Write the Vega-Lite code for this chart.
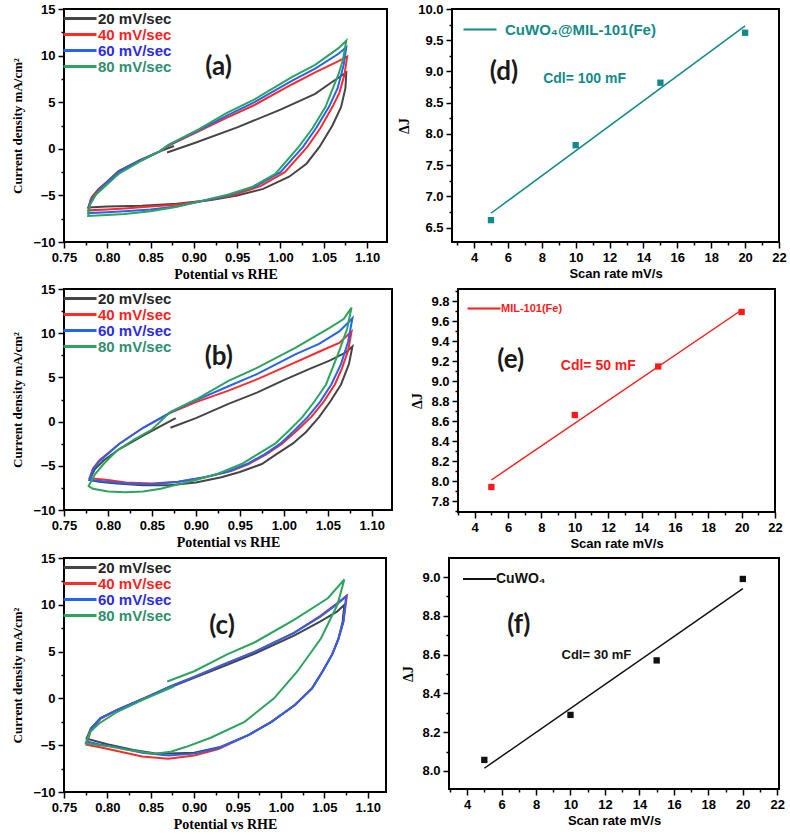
{
"$schema": "https://vega.github.io/schema/vega-lite/v6.json",
"background": "white",
"padding": {"left": 10, "top": 2, "right": 5, "bottom": 2},
"spacing": 0,
"resolve": {"scale": {"color": "independent"}, "legend": {"color": "independent"}},
"config": {
  "view": {"stroke": "#000", "strokeWidth": 2},
  "axis": {"domain": false, "grid": false, "tickColor": "#000", "tickWidth": 1.5, "labelFont": "Liberation Sans", "labelFontWeight": "bold", "labelFontSize": 13, "labelColor": "#000", "labelFlush": false, "labelOverlap": false, "labelPadding": 3, "titleColor": "#000", "titleFontWeight": "bold", "titleFontSize": 13},
  "legend": {"orient": "top-left", "offset": 2, "padding": 0, "symbolType": "M-2,0H4", "symbolSize": 121, "symbolStrokeWidth": 3, "symbolOffset": 1, "labelOffset": 16, "labelFont": "Liberation Sans", "labelFontWeight": "bold", "labelFontSize": 15, "rowPadding": 0, "labelLimit": 0, "title": null}
},
"datasets": {
"cv": [
{"p":"a","s":"20 mV/sec","i":0,"x":0.869,"y":-0.4},{"p":"a","s":"20 mV/sec","i":1,"x":0.9,"y":0.6},{"p":"a","s":"20 mV/sec","i":2,"x":0.95,"y":2.3},{"p":"a","s":"20 mV/sec","i":3,"x":1.0,"y":4.2},{"p":"a","s":"20 mV/sec","i":4,"x":1.04,"y":5.9},{"p":"a","s":"20 mV/sec","i":5,"x":1.06,"y":7.2},{"p":"a","s":"20 mV/sec","i":6,"x":1.076,"y":8.2},{"p":"a","s":"20 mV/sec","i":7,"x":1.075,"y":6.5},{"p":"a","s":"20 mV/sec","i":8,"x":1.07,"y":4.5},{"p":"a","s":"20 mV/sec","i":9,"x":1.06,"y":2.5},{"p":"a","s":"20 mV/sec","i":10,"x":1.045,"y":0.2},{"p":"a","s":"20 mV/sec","i":11,"x":1.03,"y":-1.6},{"p":"a","s":"20 mV/sec","i":12,"x":1.01,"y":-3.0},{"p":"a","s":"20 mV/sec","i":13,"x":0.98,"y":-4.3},{"p":"a","s":"20 mV/sec","i":14,"x":0.95,"y":-5.0},{"p":"a","s":"20 mV/sec","i":15,"x":0.92,"y":-5.5},{"p":"a","s":"20 mV/sec","i":16,"x":0.88,"y":-5.9},{"p":"a","s":"20 mV/sec","i":17,"x":0.84,"y":-6.1},{"p":"a","s":"20 mV/sec","i":18,"x":0.8,"y":-6.2},{"p":"a","s":"20 mV/sec","i":19,"x":0.778,"y":-6.3},{"p":"a","s":"20 mV/sec","i":20,"x":0.782,"y":-5.2},{"p":"a","s":"20 mV/sec","i":21,"x":0.79,"y":-4.3},{"p":"a","s":"20 mV/sec","i":22,"x":0.8,"y":-3.5},{"p":"a","s":"20 mV/sec","i":23,"x":0.813,"y":-2.4},{"p":"a","s":"20 mV/sec","i":24,"x":0.837,"y":-1.25},{"p":"a","s":"20 mV/sec","i":25,"x":0.86,"y":-0.3},{"p":"a","s":"20 mV/sec","i":26,"x":0.877,"y":0.3},
{"p":"a","s":"40 mV/sec","i":0,"x":0.871,"y":0.35},{"p":"a","s":"40 mV/sec","i":1,"x":0.906,"y":1.9},{"p":"a","s":"40 mV/sec","i":2,"x":0.937,"y":3.3},{"p":"a","s":"40 mV/sec","i":3,"x":0.97,"y":4.7},{"p":"a","s":"40 mV/sec","i":4,"x":1.013,"y":6.9},{"p":"a","s":"40 mV/sec","i":5,"x":1.04,"y":8.2},{"p":"a","s":"40 mV/sec","i":6,"x":1.067,"y":9.4},{"p":"a","s":"40 mV/sec","i":7,"x":1.077,"y":9.9},{"p":"a","s":"40 mV/sec","i":8,"x":1.074,"y":8.0},{"p":"a","s":"40 mV/sec","i":9,"x":1.068,"y":6.0},{"p":"a","s":"40 mV/sec","i":10,"x":1.06,"y":4.5},{"p":"a","s":"40 mV/sec","i":11,"x":1.046,"y":2.2},{"p":"a","s":"40 mV/sec","i":12,"x":1.031,"y":0.2},{"p":"a","s":"40 mV/sec","i":13,"x":1.005,"y":-2.5},{"p":"a","s":"40 mV/sec","i":14,"x":0.977,"y":-4.0},{"p":"a","s":"40 mV/sec","i":15,"x":0.945,"y":-5.0},{"p":"a","s":"40 mV/sec","i":16,"x":0.91,"y":-5.6},{"p":"a","s":"40 mV/sec","i":17,"x":0.88,"y":-6.0},{"p":"a","s":"40 mV/sec","i":18,"x":0.85,"y":-6.2},{"p":"a","s":"40 mV/sec","i":19,"x":0.82,"y":-6.4},{"p":"a","s":"40 mV/sec","i":20,"x":0.8,"y":-6.5},{"p":"a","s":"40 mV/sec","i":21,"x":0.778,"y":-6.6},{"p":"a","s":"40 mV/sec","i":22,"x":0.781,"y":-5.4},{"p":"a","s":"40 mV/sec","i":23,"x":0.79,"y":-4.4},{"p":"a","s":"40 mV/sec","i":24,"x":0.8,"y":-3.6},{"p":"a","s":"40 mV/sec","i":25,"x":0.813,"y":-2.5},{"p":"a","s":"40 mV/sec","i":26,"x":0.837,"y":-1.3},{"p":"a","s":"40 mV/sec","i":27,"x":0.86,"y":-0.3},{"p":"a","s":"40 mV/sec","i":28,"x":0.871,"y":0.35},
{"p":"a","s":"60 mV/sec","i":0,"x":0.871,"y":0.4},{"p":"a","s":"60 mV/sec","i":1,"x":0.906,"y":2.0},{"p":"a","s":"60 mV/sec","i":2,"x":0.937,"y":3.5},{"p":"a","s":"60 mV/sec","i":3,"x":0.97,"y":5.0},{"p":"a","s":"60 mV/sec","i":4,"x":1.013,"y":7.3},{"p":"a","s":"60 mV/sec","i":5,"x":1.04,"y":8.6},{"p":"a","s":"60 mV/sec","i":6,"x":1.067,"y":10.2},{"p":"a","s":"60 mV/sec","i":7,"x":1.076,"y":10.9},{"p":"a","s":"60 mV/sec","i":8,"x":1.073,"y":9.0},{"p":"a","s":"60 mV/sec","i":9,"x":1.066,"y":6.5},{"p":"a","s":"60 mV/sec","i":10,"x":1.056,"y":4.5},{"p":"a","s":"60 mV/sec","i":11,"x":1.041,"y":2.2},{"p":"a","s":"60 mV/sec","i":12,"x":1.026,"y":0.2},{"p":"a","s":"60 mV/sec","i":13,"x":1.0,"y":-2.5},{"p":"a","s":"60 mV/sec","i":14,"x":0.972,"y":-4.0},{"p":"a","s":"60 mV/sec","i":15,"x":0.94,"y":-5.0},{"p":"a","s":"60 mV/sec","i":16,"x":0.91,"y":-5.6},{"p":"a","s":"60 mV/sec","i":17,"x":0.88,"y":-6.2},{"p":"a","s":"60 mV/sec","i":18,"x":0.85,"y":-6.5},{"p":"a","s":"60 mV/sec","i":19,"x":0.82,"y":-6.7},{"p":"a","s":"60 mV/sec","i":20,"x":0.8,"y":-6.8},{"p":"a","s":"60 mV/sec","i":21,"x":0.778,"y":-6.9},{"p":"a","s":"60 mV/sec","i":22,"x":0.781,"y":-5.6},{"p":"a","s":"60 mV/sec","i":23,"x":0.79,"y":-4.5},{"p":"a","s":"60 mV/sec","i":24,"x":0.8,"y":-3.6},{"p":"a","s":"60 mV/sec","i":25,"x":0.813,"y":-2.5},{"p":"a","s":"60 mV/sec","i":26,"x":0.837,"y":-1.3},{"p":"a","s":"60 mV/sec","i":27,"x":0.86,"y":-0.3},{"p":"a","s":"60 mV/sec","i":28,"x":0.871,"y":0.4},
{"p":"a","s":"80 mV/sec","i":0,"x":0.871,"y":0.45},{"p":"a","s":"80 mV/sec","i":1,"x":0.906,"y":2.1},{"p":"a","s":"80 mV/sec","i":2,"x":0.937,"y":3.8},{"p":"a","s":"80 mV/sec","i":3,"x":0.97,"y":5.3},{"p":"a","s":"80 mV/sec","i":4,"x":1.013,"y":7.7},{"p":"a","s":"80 mV/sec","i":5,"x":1.04,"y":9.0},{"p":"a","s":"80 mV/sec","i":6,"x":1.067,"y":10.8},{"p":"a","s":"80 mV/sec","i":7,"x":1.076,"y":11.6},{"p":"a","s":"80 mV/sec","i":8,"x":1.072,"y":9.5},{"p":"a","s":"80 mV/sec","i":9,"x":1.067,"y":8.0},{"p":"a","s":"80 mV/sec","i":10,"x":1.052,"y":4.5},{"p":"a","s":"80 mV/sec","i":11,"x":1.037,"y":2.2},{"p":"a","s":"80 mV/sec","i":12,"x":1.021,"y":0.2},{"p":"a","s":"80 mV/sec","i":13,"x":0.994,"y":-2.7},{"p":"a","s":"80 mV/sec","i":14,"x":0.967,"y":-4.1},{"p":"a","s":"80 mV/sec","i":15,"x":0.94,"y":-4.9},{"p":"a","s":"80 mV/sec","i":16,"x":0.917,"y":-5.4},{"p":"a","s":"80 mV/sec","i":17,"x":0.879,"y":-6.25},{"p":"a","s":"80 mV/sec","i":18,"x":0.85,"y":-6.7},{"p":"a","s":"80 mV/sec","i":19,"x":0.82,"y":-7.0},{"p":"a","s":"80 mV/sec","i":20,"x":0.8,"y":-7.1},{"p":"a","s":"80 mV/sec","i":21,"x":0.778,"y":-7.2},{"p":"a","s":"80 mV/sec","i":22,"x":0.78,"y":-6.0},{"p":"a","s":"80 mV/sec","i":23,"x":0.787,"y":-4.9},{"p":"a","s":"80 mV/sec","i":24,"x":0.8,"y":-3.8},{"p":"a","s":"80 mV/sec","i":25,"x":0.813,"y":-2.7},{"p":"a","s":"80 mV/sec","i":26,"x":0.837,"y":-1.4},{"p":"a","s":"80 mV/sec","i":27,"x":0.86,"y":-0.3},{"p":"a","s":"80 mV/sec","i":28,"x":0.871,"y":0.45},
{"p":"b","s":"20 mV/sec","i":0,"x":0.871,"y":-0.7},{"p":"b","s":"20 mV/sec","i":1,"x":0.9,"y":0.4},{"p":"b","s":"20 mV/sec","i":2,"x":0.937,"y":2.0},{"p":"b","s":"20 mV/sec","i":3,"x":0.97,"y":3.3},{"p":"b","s":"20 mV/sec","i":4,"x":1.0,"y":4.7},{"p":"b","s":"20 mV/sec","i":5,"x":1.03,"y":6.0},{"p":"b","s":"20 mV/sec","i":6,"x":1.052,"y":6.9},{"p":"b","s":"20 mV/sec","i":7,"x":1.07,"y":7.8},{"p":"b","s":"20 mV/sec","i":8,"x":1.078,"y":8.5},{"p":"b","s":"20 mV/sec","i":9,"x":1.074,"y":6.5},{"p":"b","s":"20 mV/sec","i":10,"x":1.065,"y":4.2},{"p":"b","s":"20 mV/sec","i":11,"x":1.053,"y":2.3},{"p":"b","s":"20 mV/sec","i":12,"x":1.04,"y":0.5},{"p":"b","s":"20 mV/sec","i":13,"x":1.025,"y":-1.2},{"p":"b","s":"20 mV/sec","i":14,"x":1.01,"y":-2.5},{"p":"b","s":"20 mV/sec","i":15,"x":0.99,"y":-3.8},{"p":"b","s":"20 mV/sec","i":16,"x":0.975,"y":-4.8},{"p":"b","s":"20 mV/sec","i":17,"x":0.95,"y":-5.7},{"p":"b","s":"20 mV/sec","i":18,"x":0.929,"y":-6.3},{"p":"b","s":"20 mV/sec","i":19,"x":0.9,"y":-6.9},{"p":"b","s":"20 mV/sec","i":20,"x":0.87,"y":-7.2},{"p":"b","s":"20 mV/sec","i":21,"x":0.84,"y":-7.2},{"p":"b","s":"20 mV/sec","i":22,"x":0.81,"y":-7.0},{"p":"b","s":"20 mV/sec","i":23,"x":0.79,"y":-6.8},{"p":"b","s":"20 mV/sec","i":24,"x":0.779,"y":-6.6},{"p":"b","s":"20 mV/sec","i":25,"x":0.785,"y":-5.4},{"p":"b","s":"20 mV/sec","i":26,"x":0.795,"y":-4.4},{"p":"b","s":"20 mV/sec","i":27,"x":0.813,"y":-3.1},{"p":"b","s":"20 mV/sec","i":28,"x":0.84,"y":-1.6},{"p":"b","s":"20 mV/sec","i":29,"x":0.86,"y":-0.5},{"p":"b","s":"20 mV/sec","i":30,"x":0.877,"y":0.4},
{"p":"b","s":"40 mV/sec","i":0,"x":0.871,"y":1.0},{"p":"b","s":"40 mV/sec","i":1,"x":0.9,"y":2.2},{"p":"b","s":"40 mV/sec","i":2,"x":0.937,"y":3.5},{"p":"b","s":"40 mV/sec","i":3,"x":0.97,"y":4.8},{"p":"b","s":"40 mV/sec","i":4,"x":1.013,"y":6.7},{"p":"b","s":"40 mV/sec","i":5,"x":1.04,"y":7.9},{"p":"b","s":"40 mV/sec","i":6,"x":1.063,"y":8.9},{"p":"b","s":"40 mV/sec","i":7,"x":1.077,"y":10.2},{"p":"b","s":"40 mV/sec","i":8,"x":1.073,"y":8.0},{"p":"b","s":"40 mV/sec","i":9,"x":1.066,"y":6.0},{"p":"b","s":"40 mV/sec","i":10,"x":1.058,"y":4.2},{"p":"b","s":"40 mV/sec","i":11,"x":1.045,"y":2.2},{"p":"b","s":"40 mV/sec","i":12,"x":1.031,"y":0.5},{"p":"b","s":"40 mV/sec","i":13,"x":1.015,"y":-1.0},{"p":"b","s":"40 mV/sec","i":14,"x":0.998,"y":-2.5},{"p":"b","s":"40 mV/sec","i":15,"x":0.98,"y":-3.7},{"p":"b","s":"40 mV/sec","i":16,"x":0.96,"y":-4.8},{"p":"b","s":"40 mV/sec","i":17,"x":0.94,"y":-5.6},{"p":"b","s":"40 mV/sec","i":18,"x":0.91,"y":-6.3},{"p":"b","s":"40 mV/sec","i":19,"x":0.88,"y":-6.8},{"p":"b","s":"40 mV/sec","i":20,"x":0.85,"y":-7.0},{"p":"b","s":"40 mV/sec","i":21,"x":0.82,"y":-6.9},{"p":"b","s":"40 mV/sec","i":22,"x":0.8,"y":-6.6},{"p":"b","s":"40 mV/sec","i":23,"x":0.779,"y":-6.4},{"p":"b","s":"40 mV/sec","i":24,"x":0.783,"y":-5.3},{"p":"b","s":"40 mV/sec","i":25,"x":0.79,"y":-4.4},{"p":"b","s":"40 mV/sec","i":26,"x":0.813,"y":-2.5},{"p":"b","s":"40 mV/sec","i":27,"x":0.84,"y":-0.7},{"p":"b","s":"40 mV/sec","i":28,"x":0.871,"y":1.0},
{"p":"b","s":"60 mV/sec","i":0,"x":0.871,"y":1.05},{"p":"b","s":"60 mV/sec","i":1,"x":0.9,"y":2.4},{"p":"b","s":"60 mV/sec","i":2,"x":0.937,"y":4.0},{"p":"b","s":"60 mV/sec","i":3,"x":0.97,"y":5.4},{"p":"b","s":"60 mV/sec","i":4,"x":1.013,"y":7.6},{"p":"b","s":"60 mV/sec","i":5,"x":1.04,"y":8.8},{"p":"b","s":"60 mV/sec","i":6,"x":1.063,"y":10.2},{"p":"b","s":"60 mV/sec","i":7,"x":1.078,"y":11.7},{"p":"b","s":"60 mV/sec","i":8,"x":1.073,"y":9.0},{"p":"b","s":"60 mV/sec","i":9,"x":1.065,"y":6.5},{"p":"b","s":"60 mV/sec","i":10,"x":1.054,"y":4.2},{"p":"b","s":"60 mV/sec","i":11,"x":1.041,"y":2.2},{"p":"b","s":"60 mV/sec","i":12,"x":1.027,"y":0.5},{"p":"b","s":"60 mV/sec","i":13,"x":1.012,"y":-1.0},{"p":"b","s":"60 mV/sec","i":14,"x":0.996,"y":-2.5},{"p":"b","s":"60 mV/sec","i":15,"x":0.978,"y":-3.7},{"p":"b","s":"60 mV/sec","i":16,"x":0.958,"y":-4.8},{"p":"b","s":"60 mV/sec","i":17,"x":0.935,"y":-5.7},{"p":"b","s":"60 mV/sec","i":18,"x":0.91,"y":-6.3},{"p":"b","s":"60 mV/sec","i":19,"x":0.88,"y":-6.8},{"p":"b","s":"60 mV/sec","i":20,"x":0.85,"y":-7.1},{"p":"b","s":"60 mV/sec","i":21,"x":0.82,"y":-7.0},{"p":"b","s":"60 mV/sec","i":22,"x":0.8,"y":-6.8},{"p":"b","s":"60 mV/sec","i":23,"x":0.779,"y":-6.6},{"p":"b","s":"60 mV/sec","i":24,"x":0.783,"y":-5.4},{"p":"b","s":"60 mV/sec","i":25,"x":0.79,"y":-4.5},{"p":"b","s":"60 mV/sec","i":26,"x":0.813,"y":-2.5},{"p":"b","s":"60 mV/sec","i":27,"x":0.84,"y":-0.7},{"p":"b","s":"60 mV/sec","i":28,"x":0.871,"y":1.05},
{"p":"b","s":"80 mV/sec","i":0,"x":0.871,"y":1.1},{"p":"b","s":"80 mV/sec","i":1,"x":0.9,"y":2.5},{"p":"b","s":"80 mV/sec","i":2,"x":0.937,"y":4.6},{"p":"b","s":"80 mV/sec","i":3,"x":0.97,"y":6.1},{"p":"b","s":"80 mV/sec","i":4,"x":1.013,"y":8.35},{"p":"b","s":"80 mV/sec","i":5,"x":1.052,"y":10.6},{"p":"b","s":"80 mV/sec","i":6,"x":1.068,"y":11.6},{"p":"b","s":"80 mV/sec","i":7,"x":1.077,"y":12.9},{"p":"b","s":"80 mV/sec","i":8,"x":1.072,"y":10.5},{"p":"b","s":"80 mV/sec","i":9,"x":1.063,"y":8.0},{"p":"b","s":"80 mV/sec","i":10,"x":1.048,"y":4.2},{"p":"b","s":"80 mV/sec","i":11,"x":1.035,"y":2.3},{"p":"b","s":"80 mV/sec","i":12,"x":1.021,"y":0.5},{"p":"b","s":"80 mV/sec","i":13,"x":1.005,"y":-1.1},{"p":"b","s":"80 mV/sec","i":14,"x":0.99,"y":-2.5},{"p":"b","s":"80 mV/sec","i":15,"x":0.97,"y":-3.7},{"p":"b","s":"80 mV/sec","i":16,"x":0.952,"y":-4.8},{"p":"b","s":"80 mV/sec","i":17,"x":0.925,"y":-5.9},{"p":"b","s":"80 mV/sec","i":18,"x":0.9,"y":-6.6},{"p":"b","s":"80 mV/sec","i":19,"x":0.88,"y":-7.1},{"p":"b","s":"80 mV/sec","i":20,"x":0.86,"y":-7.6},{"p":"b","s":"80 mV/sec","i":21,"x":0.84,"y":-7.9},{"p":"b","s":"80 mV/sec","i":22,"x":0.82,"y":-8.0},{"p":"b","s":"80 mV/sec","i":23,"x":0.8,"y":-7.9},{"p":"b","s":"80 mV/sec","i":24,"x":0.783,"y":-7.6},{"p":"b","s":"80 mV/sec","i":25,"x":0.778,"y":-7.3},{"p":"b","s":"80 mV/sec","i":26,"x":0.785,"y":-6.0},{"p":"b","s":"80 mV/sec","i":27,"x":0.795,"y":-4.8},{"p":"b","s":"80 mV/sec","i":28,"x":0.81,"y":-3.3},{"p":"b","s":"80 mV/sec","i":29,"x":0.83,"y":-2.0},{"p":"b","s":"80 mV/sec","i":30,"x":0.85,"y":-0.9},{"p":"b","s":"80 mV/sec","i":31,"x":0.871,"y":1.1},
{"p":"c","s":"20 mV/sec","i":0,"x":0.873,"y":1.2},{"p":"c","s":"20 mV/sec","i":1,"x":0.9,"y":2.2},{"p":"c","s":"20 mV/sec","i":2,"x":0.938,"y":3.6},{"p":"c","s":"20 mV/sec","i":3,"x":0.97,"y":4.8},{"p":"c","s":"20 mV/sec","i":4,"x":1.015,"y":6.7},{"p":"c","s":"20 mV/sec","i":5,"x":1.045,"y":8.2},{"p":"c","s":"20 mV/sec","i":6,"x":1.065,"y":9.3},{"p":"c","s":"20 mV/sec","i":7,"x":1.073,"y":10.0},{"p":"c","s":"20 mV/sec","i":8,"x":1.071,"y":8.2},{"p":"c","s":"20 mV/sec","i":9,"x":1.066,"y":6.3},{"p":"c","s":"20 mV/sec","i":10,"x":1.059,"y":4.7},{"p":"c","s":"20 mV/sec","i":11,"x":1.048,"y":2.9},{"p":"c","s":"20 mV/sec","i":12,"x":1.036,"y":1.1},{"p":"c","s":"20 mV/sec","i":13,"x":1.016,"y":-0.7},{"p":"c","s":"20 mV/sec","i":14,"x":0.989,"y":-2.5},{"p":"c","s":"20 mV/sec","i":15,"x":0.963,"y":-3.9},{"p":"c","s":"20 mV/sec","i":16,"x":0.93,"y":-5.2},{"p":"c","s":"20 mV/sec","i":17,"x":0.9,"y":-5.8},{"p":"c","s":"20 mV/sec","i":18,"x":0.87,"y":-5.9},{"p":"c","s":"20 mV/sec","i":19,"x":0.854,"y":-5.85},{"p":"c","s":"20 mV/sec","i":20,"x":0.83,"y":-5.5},{"p":"c","s":"20 mV/sec","i":21,"x":0.8,"y":-4.9},{"p":"c","s":"20 mV/sec","i":22,"x":0.776,"y":-4.3},{"p":"c","s":"20 mV/sec","i":23,"x":0.781,"y":-3.2},{"p":"c","s":"20 mV/sec","i":24,"x":0.792,"y":-2.1},{"p":"c","s":"20 mV/sec","i":25,"x":0.812,"y":-1.2},{"p":"c","s":"20 mV/sec","i":26,"x":0.842,"y":0.0},{"p":"c","s":"20 mV/sec","i":27,"x":0.873,"y":1.2},
{"p":"c","s":"40 mV/sec","i":0,"x":0.873,"y":1.3},{"p":"c","s":"40 mV/sec","i":1,"x":0.9,"y":2.3},{"p":"c","s":"40 mV/sec","i":2,"x":0.938,"y":3.8},{"p":"c","s":"40 mV/sec","i":3,"x":0.97,"y":5.0},{"p":"c","s":"40 mV/sec","i":4,"x":1.015,"y":7.0},{"p":"c","s":"40 mV/sec","i":5,"x":1.045,"y":8.8},{"p":"c","s":"40 mV/sec","i":6,"x":1.065,"y":10.2},{"p":"c","s":"40 mV/sec","i":7,"x":1.076,"y":11.0},{"p":"c","s":"40 mV/sec","i":8,"x":1.072,"y":8.2},{"p":"c","s":"40 mV/sec","i":9,"x":1.066,"y":6.3},{"p":"c","s":"40 mV/sec","i":10,"x":1.059,"y":4.7},{"p":"c","s":"40 mV/sec","i":11,"x":1.048,"y":2.9},{"p":"c","s":"40 mV/sec","i":12,"x":1.036,"y":1.1},{"p":"c","s":"40 mV/sec","i":13,"x":1.016,"y":-0.7},{"p":"c","s":"40 mV/sec","i":14,"x":0.989,"y":-2.5},{"p":"c","s":"40 mV/sec","i":15,"x":0.963,"y":-3.9},{"p":"c","s":"40 mV/sec","i":16,"x":0.928,"y":-5.4},{"p":"c","s":"40 mV/sec","i":17,"x":0.9,"y":-6.1},{"p":"c","s":"40 mV/sec","i":18,"x":0.87,"y":-6.45},{"p":"c","s":"40 mV/sec","i":19,"x":0.84,"y":-6.2},{"p":"c","s":"40 mV/sec","i":20,"x":0.81,"y":-5.6},{"p":"c","s":"40 mV/sec","i":21,"x":0.79,"y":-5.2},{"p":"c","s":"40 mV/sec","i":22,"x":0.776,"y":-4.95},{"p":"c","s":"40 mV/sec","i":23,"x":0.781,"y":-3.4},{"p":"c","s":"40 mV/sec","i":24,"x":0.792,"y":-2.2},{"p":"c","s":"40 mV/sec","i":25,"x":0.812,"y":-1.2},{"p":"c","s":"40 mV/sec","i":26,"x":0.842,"y":0.0},{"p":"c","s":"40 mV/sec","i":27,"x":0.873,"y":1.3},
{"p":"c","s":"60 mV/sec","i":0,"x":0.873,"y":1.3},{"p":"c","s":"60 mV/sec","i":1,"x":0.9,"y":2.3},{"p":"c","s":"60 mV/sec","i":2,"x":0.938,"y":3.8},{"p":"c","s":"60 mV/sec","i":3,"x":0.97,"y":5.0},{"p":"c","s":"60 mV/sec","i":4,"x":1.015,"y":7.0},{"p":"c","s":"60 mV/sec","i":5,"x":1.045,"y":8.7},{"p":"c","s":"60 mV/sec","i":6,"x":1.065,"y":10.1},{"p":"c","s":"60 mV/sec","i":7,"x":1.075,"y":10.9},{"p":"c","s":"60 mV/sec","i":8,"x":1.072,"y":8.2},{"p":"c","s":"60 mV/sec","i":9,"x":1.066,"y":6.3},{"p":"c","s":"60 mV/sec","i":10,"x":1.059,"y":4.7},{"p":"c","s":"60 mV/sec","i":11,"x":1.048,"y":2.9},{"p":"c","s":"60 mV/sec","i":12,"x":1.036,"y":1.1},{"p":"c","s":"60 mV/sec","i":13,"x":1.016,"y":-0.7},{"p":"c","s":"60 mV/sec","i":14,"x":0.989,"y":-2.5},{"p":"c","s":"60 mV/sec","i":15,"x":0.963,"y":-3.9},{"p":"c","s":"60 mV/sec","i":16,"x":0.928,"y":-5.3},{"p":"c","s":"60 mV/sec","i":17,"x":0.9,"y":-5.9},{"p":"c","s":"60 mV/sec","i":18,"x":0.87,"y":-6.1},{"p":"c","s":"60 mV/sec","i":19,"x":0.84,"y":-5.8},{"p":"c","s":"60 mV/sec","i":20,"x":0.81,"y":-5.2},{"p":"c","s":"60 mV/sec","i":21,"x":0.79,"y":-4.9},{"p":"c","s":"60 mV/sec","i":22,"x":0.776,"y":-4.6},{"p":"c","s":"60 mV/sec","i":23,"x":0.781,"y":-3.3},{"p":"c","s":"60 mV/sec","i":24,"x":0.792,"y":-2.1},{"p":"c","s":"60 mV/sec","i":25,"x":0.812,"y":-1.2},{"p":"c","s":"60 mV/sec","i":26,"x":0.842,"y":0.0},{"p":"c","s":"60 mV/sec","i":27,"x":0.873,"y":1.3},
{"p":"c","s":"80 mV/sec","i":0,"x":0.869,"y":1.8},{"p":"c","s":"80 mV/sec","i":1,"x":0.9,"y":2.9},{"p":"c","s":"80 mV/sec","i":2,"x":0.938,"y":4.7},{"p":"c","s":"80 mV/sec","i":3,"x":0.97,"y":6.0},{"p":"c","s":"80 mV/sec","i":4,"x":1.015,"y":8.4},{"p":"c","s":"80 mV/sec","i":5,"x":1.054,"y":10.7},{"p":"c","s":"80 mV/sec","i":6,"x":1.073,"y":12.7},{"p":"c","s":"80 mV/sec","i":7,"x":1.065,"y":10.0},{"p":"c","s":"80 mV/sec","i":8,"x":1.046,"y":6.4},{"p":"c","s":"80 mV/sec","i":9,"x":1.019,"y":2.9},{"p":"c","s":"80 mV/sec","i":10,"x":0.992,"y":0.0},{"p":"c","s":"80 mV/sec","i":11,"x":0.958,"y":-2.5},{"p":"c","s":"80 mV/sec","i":12,"x":0.919,"y":-4.2},{"p":"c","s":"80 mV/sec","i":13,"x":0.89,"y":-5.2},{"p":"c","s":"80 mV/sec","i":14,"x":0.873,"y":-5.7},{"p":"c","s":"80 mV/sec","i":15,"x":0.854,"y":-5.9},{"p":"c","s":"80 mV/sec","i":16,"x":0.823,"y":-5.5},{"p":"c","s":"80 mV/sec","i":17,"x":0.8,"y":-5.1},{"p":"c","s":"80 mV/sec","i":18,"x":0.775,"y":-4.8},{"p":"c","s":"80 mV/sec","i":19,"x":0.78,"y":-3.6},{"p":"c","s":"80 mV/sec","i":20,"x":0.79,"y":-2.7},{"p":"c","s":"80 mV/sec","i":21,"x":0.812,"y":-1.4},{"p":"c","s":"80 mV/sec","i":22,"x":0.842,"y":-0.1},{"p":"c","s":"80 mV/sec","i":23,"x":0.877,"y":1.3}
],
"fit": [
{"p":"d","k":"line","s":"CuWO₄@MIL-101(Fe)","x":5,"y":6.73},{"p":"d","k":"line","s":"CuWO₄@MIL-101(Fe)","x":20,"y":9.73},
{"p":"d","k":"pt","s":"CuWO₄@MIL-101(Fe)","x":5,"y":6.62},{"p":"d","k":"pt","s":"CuWO₄@MIL-101(Fe)","x":10,"y":7.82},{"p":"d","k":"pt","s":"CuWO₄@MIL-101(Fe)","x":15,"y":8.82},{"p":"d","k":"pt","s":"CuWO₄@MIL-101(Fe)","x":20,"y":9.62},
{"p":"e","k":"line","s":"MIL-101(Fe)","x":5,"y":8.01},{"p":"e","k":"line","s":"MIL-101(Fe)","x":20,"y":9.71},
{"p":"e","k":"pt","s":"MIL-101(Fe)","x":5,"y":7.94},{"p":"e","k":"pt","s":"MIL-101(Fe)","x":10,"y":8.66},{"p":"e","k":"pt","s":"MIL-101(Fe)","x":15,"y":9.145},{"p":"e","k":"pt","s":"MIL-101(Fe)","x":20,"y":9.69},
{"p":"f","k":"line","s":"CuWO₄","x":5,"y":8.014},{"p":"f","k":"line","s":"CuWO₄","x":20,"y":8.94},
{"p":"f","k":"pt","s":"CuWO₄","x":5,"y":8.057},{"p":"f","k":"pt","s":"CuWO₄","x":10,"y":8.289},{"p":"f","k":"pt","s":"CuWO₄","x":15,"y":8.57},{"p":"f","k":"pt","s":"CuWO₄","x":20,"y":8.99}
],
"ann": [
{"p":"a","t":"(a)","x":0.9285,"y":8.75},{"p":"b","t":"(b)","x":0.926,"y":7.27},{"p":"c","t":"(c)","x":0.932,"y":7.69},
{"p":"d","t":"(d)","x":5.77,"y":8.99},{"p":"e","t":"(e)","x":6.16,"y":9.21},{"p":"f","t":"(f)","x":7.0,"y":8.75}
],
"cdl": [
{"p":"d","t":"Cdl= 100 mF","x":8.08,"y":8.88},{"p":"e","t":"Cdl= 50 mF","x":9.16,"y":9.15},{"p":"f","t":"Cdl= 30 mF","x":9.48,"y":8.6}
]
},
"vconcat": [
{"spacing": 8, "resolve": {"scale": {"color": "independent"}, "legend": {"color": "independent"}}, "hconcat": [
 {"width": 323, "height": 233,
  "encoding": {
   "x": {"field": "x", "type": "quantitative", "scale": {"domain": [0.75, 1.123], "nice": false, "zero": false}, "axis": {"title": "Potential vs RHE", "titleFont": "Liberation Serif", "titleFontSize": 14, "titlePadding": 3, "values": [0.75,0.775,0.8,0.825,0.85,0.875,0.9,0.925,0.95,0.975,1.0,1.025,1.05,1.075,1.1], "format": ".2f", "labelExpr": "abs(datum.value*20-round(datum.value*20))<0.01 ? datum.label : ''", "tickSize": {"condition": {"test": "abs(datum.value*20-round(datum.value*20))<0.01", "value": 6}, "value": 3}}},
   "y": {"field": "y", "type": "quantitative", "scale": {"domain": [-10, 15], "nice": false, "zero": false}, "axis": {"title": "Current density mA/cm²", "titleFont": "Liberation Serif", "titleFontSize": 13, "titlePadding": 8, "values": [-10,-7.5,-5,-2.5,0,2.5,5,7.5,10,12.5,15], "format": "d", "labelExpr": "datum.value%5==0 ? datum.label : ''", "tickSize": {"condition": {"test": "datum.value%5==0", "value": 6}, "value": 3}}}
  },
  "layer": [
   {"data": {"name": "cv"}, "transform": [{"filter": "datum.p=='a'"}], "mark": {"type": "line", "strokeWidth": 2},
    "encoding": {"color": {"field": "s", "type": "nominal", "scale": {"domain": ["20 mV/sec","40 mV/sec","60 mV/sec","80 mV/sec"], "range": ["#454545","#ff2a2a","#2464f0","#2ea35f"]}, "legend": {"offset": 2, "labelColor": {"expr": "datum.label=='20 mV/sec' ? '#262626' : datum.label=='40 mV/sec' ? '#ff1f1f' : datum.label=='60 mV/sec' ? '#2b2bea' : '#2e8f6e'"}}}, "order": {"field": "i", "type": "quantitative"}}},
   {"data": {"name": "ann"}, "transform": [{"filter": "datum.p=='a'"}], "mark": {"type": "text", "font": "Lato", "fontWeight": "bold", "fontSize": 26, "color": "#1a1a1a", "baseline": "middle"}, "encoding": {"text": {"field": "t"}}}
  ]},
 {"width": 327, "height": 233,
  "encoding": {
   "x": {"field": "x", "type": "quantitative", "scale": {"domain": [2.7, 22], "nice": false, "zero": false}, "axis": {"title": "Scan rate mV/s", "titleFont": "Liberation Sans", "titleFontSize": 13, "titlePadding": 3, "values": [3,4,5,6,7,8,9,10,11,12,13,14,15,16,17,18,19,20,21,22], "format": "d", "labelExpr": "datum.value%2==0 ? datum.label : ''", "tickSize": {"condition": {"test": "datum.value%2==0", "value": 6}, "value": 3}}},
   "y": {"field": "y", "type": "quantitative", "scale": {"domain": [6.27, 10], "nice": false, "zero": false}, "axis": {"title": "ΔJ", "titleFont": "Liberation Serif", "titleFontSize": 14, "titlePadding": 6, "values": [6.5,6.75,7,7.25,7.5,7.75,8,8.25,8.5,8.75,9,9.25,9.5,9.75,10], "format": ".1f", "labelExpr": "abs(datum.value*2-round(datum.value*2))<0.01 ? datum.label : ''", "tickSize": {"condition": {"test": "abs(datum.value*2-round(datum.value*2))<0.01", "value": 6}, "value": 3}}}
  },
  "layer": [
   {"data": {"name": "fit"}, "transform": [{"filter": "datum.p=='d' && datum.k=='line'"}], "mark": {"type": "line", "strokeWidth": 1.5},
    "encoding": {"color": {"field": "s", "type": "nominal", "scale": {"range": ["#138a8a"]}, "legend": {"offset": 13, "symbolOffset": 2, "labelOffset": 23, "symbolStrokeWidth": 2, "labelColor": "#138a8a", "labelFontSize": 15}}}},
   {"data": {"name": "fit"}, "transform": [{"filter": "datum.p=='d' && datum.k=='pt'"}], "mark": {"type": "square", "size": 40, "color": "#138a8a", "opacity": 1}},
   {"data": {"name": "ann"}, "transform": [{"filter": "datum.p=='d'"}], "mark": {"type": "text", "font": "Lato", "fontWeight": "bold", "fontSize": 26, "color": "#1a1a1a", "baseline": "middle"}, "encoding": {"text": {"field": "t"}}},
   {"data": {"name": "cdl"}, "transform": [{"filter": "datum.p=='d'"}], "mark": {"type": "text", "font": "Liberation Sans", "fontWeight": "bold", "fontSize": 14, "color": "#138a8a", "align": "left", "baseline": "middle"}, "encoding": {"text": {"field": "t"}}}
  ]}
]},
{"spacing": 16, "resolve": {"scale": {"color": "independent"}, "legend": {"color": "independent"}}, "hconcat": [
 {"width": 328, "height": 221,
  "encoding": {
   "x": {"field": "x", "type": "quantitative", "scale": {"domain": [0.75, 1.123], "nice": false, "zero": false}, "axis": {"title": "Potential vs RHE", "titleFont": "Liberation Serif", "titleFontSize": 14, "titlePadding": 3, "values": [0.75,0.775,0.8,0.825,0.85,0.875,0.9,0.925,0.95,0.975,1.0,1.025,1.05,1.075,1.1], "format": ".2f", "labelExpr": "abs(datum.value*20-round(datum.value*20))<0.01 ? datum.label : ''", "tickSize": {"condition": {"test": "abs(datum.value*20-round(datum.value*20))<0.01", "value": 6}, "value": 3}}},
   "y": {"field": "y", "type": "quantitative", "scale": {"domain": [-10, 15], "nice": false, "zero": false}, "axis": {"title": "Current density mA/cm²", "titleFont": "Liberation Serif", "titleFontSize": 13, "titlePadding": 8, "values": [-10,-7.5,-5,-2.5,0,2.5,5,7.5,10,12.5,15], "format": "d", "labelExpr": "datum.value%5==0 ? datum.label : ''", "tickSize": {"condition": {"test": "datum.value%5==0", "value": 6}, "value": 3}}}
  },
  "layer": [
   {"data": {"name": "cv"}, "transform": [{"filter": "datum.p=='b'"}], "mark": {"type": "line", "strokeWidth": 2},
    "encoding": {"color": {"field": "s", "type": "nominal", "scale": {"domain": ["20 mV/sec","40 mV/sec","60 mV/sec","80 mV/sec"], "range": ["#454545","#ff2a2a","#2464f0","#2ea35f"]}, "legend": {"offset": 2, "labelColor": {"expr": "datum.label=='20 mV/sec' ? '#262626' : datum.label=='40 mV/sec' ? '#ff1f1f' : datum.label=='60 mV/sec' ? '#2b2bea' : '#2e8f6e'"}}}, "order": {"field": "i", "type": "quantitative"}}},
   {"data": {"name": "ann"}, "transform": [{"filter": "datum.p=='b'"}], "mark": {"type": "text", "font": "Lato", "fontWeight": "bold", "fontSize": 26, "color": "#1a1a1a", "baseline": "middle"}, "encoding": {"text": {"field": "t"}}}
  ]},
 {"width": 317, "height": 223,
  "encoding": {
   "x": {"field": "x", "type": "quantitative", "scale": {"domain": [3, 22], "nice": false, "zero": false}, "axis": {"title": "Scan rate mV/s", "titleFont": "Liberation Sans", "titleFontSize": 13, "titlePadding": 3, "values": [3,4,5,6,7,8,9,10,11,12,13,14,15,16,17,18,19,20,21,22], "format": "d", "labelExpr": "datum.value%2==0 ? datum.label : ''", "tickSize": {"condition": {"test": "datum.value%2==0", "value": 6}, "value": 3}}},
   "y": {"field": "y", "type": "quantitative", "scale": {"domain": [7.69, 9.92], "nice": false, "zero": false}, "axis": {"title": "ΔJ", "titleFont": "Liberation Serif", "titleFontSize": 14, "titlePadding": 6, "values": [7.7,7.8,7.9,8.0,8.1,8.2,8.3,8.4,8.5,8.6,8.7,8.8,8.9,9.0,9.1,9.2,9.3,9.4,9.5,9.6,9.7,9.8,9.9], "format": ".1f", "labelExpr": "abs(datum.value*5-round(datum.value*5))<0.01 ? datum.label : ''", "tickSize": {"condition": {"test": "abs(datum.value*5-round(datum.value*5))<0.01", "value": 6}, "value": 3}}}
  },
  "layer": [
   {"data": {"name": "fit"}, "transform": [{"filter": "datum.p=='e' && datum.k=='line'"}], "mark": {"type": "line", "strokeWidth": 1.5},
    "encoding": {"color": {"field": "s", "type": "nominal", "scale": {"range": ["#ff1a1a"]}, "legend": {"offset": 13, "symbolOffset": 1, "labelOffset": 16, "symbolStrokeWidth": 2, "labelColor": "#ff1a1a", "labelFontSize": 11}}}},
   {"data": {"name": "fit"}, "transform": [{"filter": "datum.p=='e' && datum.k=='pt'"}], "mark": {"type": "square", "size": 40, "color": "#ff1a1a", "opacity": 1}},
   {"data": {"name": "ann"}, "transform": [{"filter": "datum.p=='e'"}], "mark": {"type": "text", "font": "Lato", "fontWeight": "bold", "fontSize": 26, "color": "#1a1a1a", "baseline": "middle"}, "encoding": {"text": {"field": "t"}}},
   {"data": {"name": "cdl"}, "transform": [{"filter": "datum.p=='e'"}], "mark": {"type": "text", "font": "Liberation Sans", "fontWeight": "bold", "fontSize": 14, "color": "#ff1a1a", "align": "left", "baseline": "middle"}, "encoding": {"text": {"field": "t"}}}
  ]}
]},
{"spacing": 13, "resolve": {"scale": {"color": "independent"}, "legend": {"color": "independent"}}, "hconcat": [
 {"width": 322, "height": 234,
  "encoding": {
   "x": {"field": "x", "type": "quantitative", "scale": {"domain": [0.75, 1.121], "nice": false, "zero": false}, "axis": {"title": "Potential vs RHE", "titleFont": "Liberation Serif", "titleFontSize": 14, "titlePadding": 3, "values": [0.75,0.775,0.8,0.825,0.85,0.875,0.9,0.925,0.95,0.975,1.0,1.025,1.05,1.075,1.1], "format": ".2f", "labelExpr": "abs(datum.value*20-round(datum.value*20))<0.01 ? datum.label : ''", "tickSize": {"condition": {"test": "abs(datum.value*20-round(datum.value*20))<0.01", "value": 6}, "value": 3}}},
   "y": {"field": "y", "type": "quantitative", "scale": {"domain": [-10, 15], "nice": false, "zero": false}, "axis": {"title": "Current density mA/cm²", "titleFont": "Liberation Serif", "titleFontSize": 13, "titlePadding": 8, "values": [-10,-7.5,-5,-2.5,0,2.5,5,7.5,10,12.5,15], "format": "d", "labelExpr": "datum.value%5==0 ? datum.label : ''", "tickSize": {"condition": {"test": "datum.value%5==0", "value": 6}, "value": 3}}}
  },
  "layer": [
   {"data": {"name": "cv"}, "transform": [{"filter": "datum.p=='c'"}], "mark": {"type": "line", "strokeWidth": 2},
    "encoding": {"color": {"field": "s", "type": "nominal", "scale": {"domain": ["20 mV/sec","40 mV/sec","60 mV/sec","80 mV/sec"], "range": ["#454545","#ff2a2a","#2464f0","#2ea35f"]}, "legend": {"offset": 2, "labelColor": {"expr": "datum.label=='20 mV/sec' ? '#262626' : datum.label=='40 mV/sec' ? '#ff1f1f' : datum.label=='60 mV/sec' ? '#2b2bea' : '#2e8f6e'"}}}, "order": {"field": "i", "type": "quantitative"}}},
   {"data": {"name": "ann"}, "transform": [{"filter": "datum.p=='c'"}], "mark": {"type": "text", "font": "Lato", "fontWeight": "bold", "fontSize": 26, "color": "#1a1a1a", "baseline": "middle"}, "encoding": {"text": {"field": "t"}}}
  ]},
 {"width": 330, "height": 231,
  "encoding": {
   "x": {"field": "x", "type": "quantitative", "scale": {"domain": [2.95, 22.1], "nice": false, "zero": false}, "axis": {"title": "Scan rate mV/s", "titleFont": "Liberation Sans", "titleFontSize": 13, "titlePadding": 3, "values": [3,4,5,6,7,8,9,10,11,12,13,14,15,16,17,18,19,20,21,22], "format": "d", "labelExpr": "datum.value%2==0 ? datum.label : ''", "tickSize": {"condition": {"test": "datum.value%2==0", "value": 6}, "value": 3}}},
   "y": {"field": "y", "type": "quantitative", "scale": {"domain": [7.907, 9.098], "nice": false, "zero": false}, "axis": {"title": "ΔJ", "titleFont": "Liberation Serif", "titleFontSize": 14, "titlePadding": 6, "values": [8.0,8.1,8.2,8.3,8.4,8.5,8.6,8.7,8.8,8.9,9.0], "format": ".1f", "labelExpr": "abs(datum.value*5-round(datum.value*5))<0.01 ? datum.label : ''", "tickSize": {"condition": {"test": "abs(datum.value*5-round(datum.value*5))<0.01", "value": 6}, "value": 3}}}
  },
  "layer": [
   {"data": {"name": "fit"}, "transform": [{"filter": "datum.p=='f' && datum.k=='line'"}], "mark": {"type": "line", "strokeWidth": 1.5},
    "encoding": {"color": {"field": "s", "type": "nominal", "scale": {"range": ["#111111"]}, "legend": {"offset": 14, "symbolOffset": 4, "labelOffset": 15, "symbolStrokeWidth": 2, "labelColor": "#111111", "labelFontSize": 14}}}},
   {"data": {"name": "fit"}, "transform": [{"filter": "datum.p=='f' && datum.k=='pt'"}], "mark": {"type": "square", "size": 40, "color": "#111111", "opacity": 1}},
   {"data": {"name": "ann"}, "transform": [{"filter": "datum.p=='f'"}], "mark": {"type": "text", "font": "Lato", "fontWeight": "bold", "fontSize": 26, "color": "#1a1a1a", "baseline": "middle"}, "encoding": {"text": {"field": "t"}}},
   {"data": {"name": "cdl"}, "transform": [{"filter": "datum.p=='f'"}], "mark": {"type": "text", "font": "Liberation Sans", "fontWeight": "bold", "fontSize": 13, "color": "#111111", "align": "left", "baseline": "middle"}, "encoding": {"text": {"field": "t"}}}
  ]}
]}
]
}
